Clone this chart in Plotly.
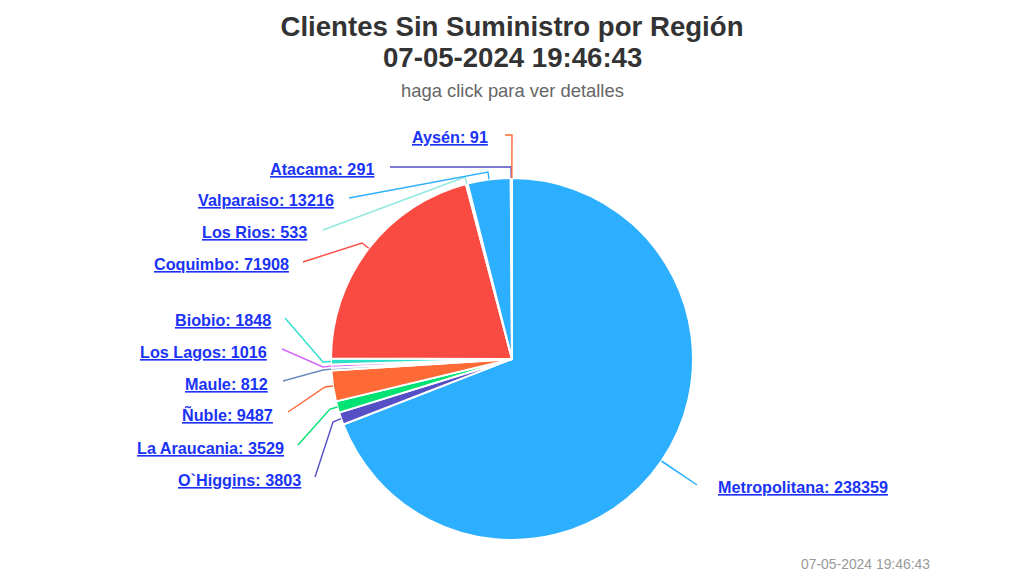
import math
import plotly.graph_objects as go

# datos
regiones = ["Metropolitana", "O`Higgins", "La Araucania", "Ñuble", "Maule", "Los Lagos",
            "Biobio", "Coquimbo", "Los Rios", "Valparaiso", "Atacama", "Aysén"]
clientes = [238359, 3803, 3529, 9487, 812, 1016, 1848, 71908, 533, 13216, 291, 91]
colores = ["#2caffe", "#544fc5", "#00e272", "#fe6a35", "#6b8abc", "#d568fb",
           "#2ee0ca", "#fa4b42", "#91e8e1", "#2caffe", "#544fc5", "#fe6a35"]
fecha = "07-05-2024 19:46:43"

W, H = 1024, 576
CX, CY, R = 512, 359, 180

# donde va cada etiqueta (px): x de anclaje, y centro
etiqueta_x = [718, 301, 284, 273, 268, 267, 271, 289, 307, 334, 374, 488]
etiqueta_y = [487, 480, 448, 414, 384, 352, 320, 264, 232, 200, 169, 137]
# conector: extremo junto a la etiqueta y codo
linea_ext = [(662, 461), (315, 477), (298, 445), (288, 412), (283, 381), (282, 349),
             (285, 318), (303, 262), (323, 230), (349, 198), (390, 167), (505, 135)]
codo = [(697, 485), (333, 422), (330, 409), (325, 387), (323, 370), (323, 367),
        (323, 362), (362, 243), (465, 177), (488, 172), (511, 167), (512, 135)]


def px(x, y):
    return x / W, 1 - y / H


fig = go.Figure()
fig.add_trace(go.Pie(
    labels=regiones,
    values=clientes,
    sort=False,
    direction="clockwise",
    rotation=0,
    textinfo="none",
    marker=dict(colors=colores, line=dict(color="white", width=2)),
    domain=dict(x=[(CX - R - 1) / W, (CX + R + 1) / W], y=[1 - (CY + R + 1) / H, 1 - (CY - R - 1) / H]),
    showlegend=False,
))

total = sum(clientes)
acum = 0
shapes = []
annotations = []
for i, reg in enumerate(regiones):
    # angulo medio de la tajada, para que el conector salga de ella
    ang = 2 * math.pi * (acum + clientes[i] / 2) / total
    acum += clientes[i]
    borde = (CX + (R + 1) * math.sin(ang), CY - (R + 1) * math.cos(ang))
    pts = [px(*linea_ext[i]), px(*codo[i]), px(*borde)]
    path = "M {} {} L {} {} L {} {}".format(*[v for p in pts for v in p])
    shapes.append(dict(type="path", xref="paper", yref="paper", path=path,
                       line=dict(color=colores[i], width=1.4)))
    ax, ay = px(etiqueta_x[i], etiqueta_y[i])
    annotations.append(dict(
        text=f"<b><u>{reg}: {clientes[i]}</u></b>",
        x=ax, y=ay, xref="paper", yref="paper",
        xanchor="left" if i == 0 else "right", yanchor="middle",
        showarrow=False, xshift=-2 if i == 0 else 2,
        font=dict(family="Liberation Sans", size=16.2, color="#1a33f5"),
    ))

# segunda linea del titulo aparte: el interlineado de plotly queda muy abierto
annotations.append(dict(text=f"<b>{fecha}</b>", x=0.5, y=1 - 58 / H,
                        xref="paper", yref="paper", xanchor="center", yanchor="middle",
                        showarrow=False,
                        font=dict(family="Liberation Sans", size=27.6, color="#333333")))
annotations.append(dict(text="haga click para ver detalles", x=0.5, y=1 - 90 / H,
                        xref="paper", yref="paper", xanchor="center", yanchor="middle",
                        showarrow=False,
                        font=dict(family="Liberation Sans", size=18.4, color="#666666")))
annotations.append(dict(text=fecha, x=930 / W, y=1 - 564 / H,
                        xref="paper", yref="paper", xanchor="right", yanchor="middle",
                        showarrow=False, xshift=2,
                        font=dict(family="Liberation Sans", size=13.9, color="#999999")))

fig.update_layout(
    width=W, height=H,
    margin=dict(l=0, r=0, t=0, b=0),
    paper_bgcolor="white",
    title=dict(text="<b>Clientes Sin Suministro por Región</b>",
               x=0.5, xanchor="center", y=1 - 26 / H, yanchor="middle",
               font=dict(family="Liberation Sans", size=27.6, color="#333333")),
    shapes=shapes,
    annotations=annotations,
)

fig.write_html("out.html", post_script="document.body.style.margin='0';",
               config=dict(displayModeBar=False))
